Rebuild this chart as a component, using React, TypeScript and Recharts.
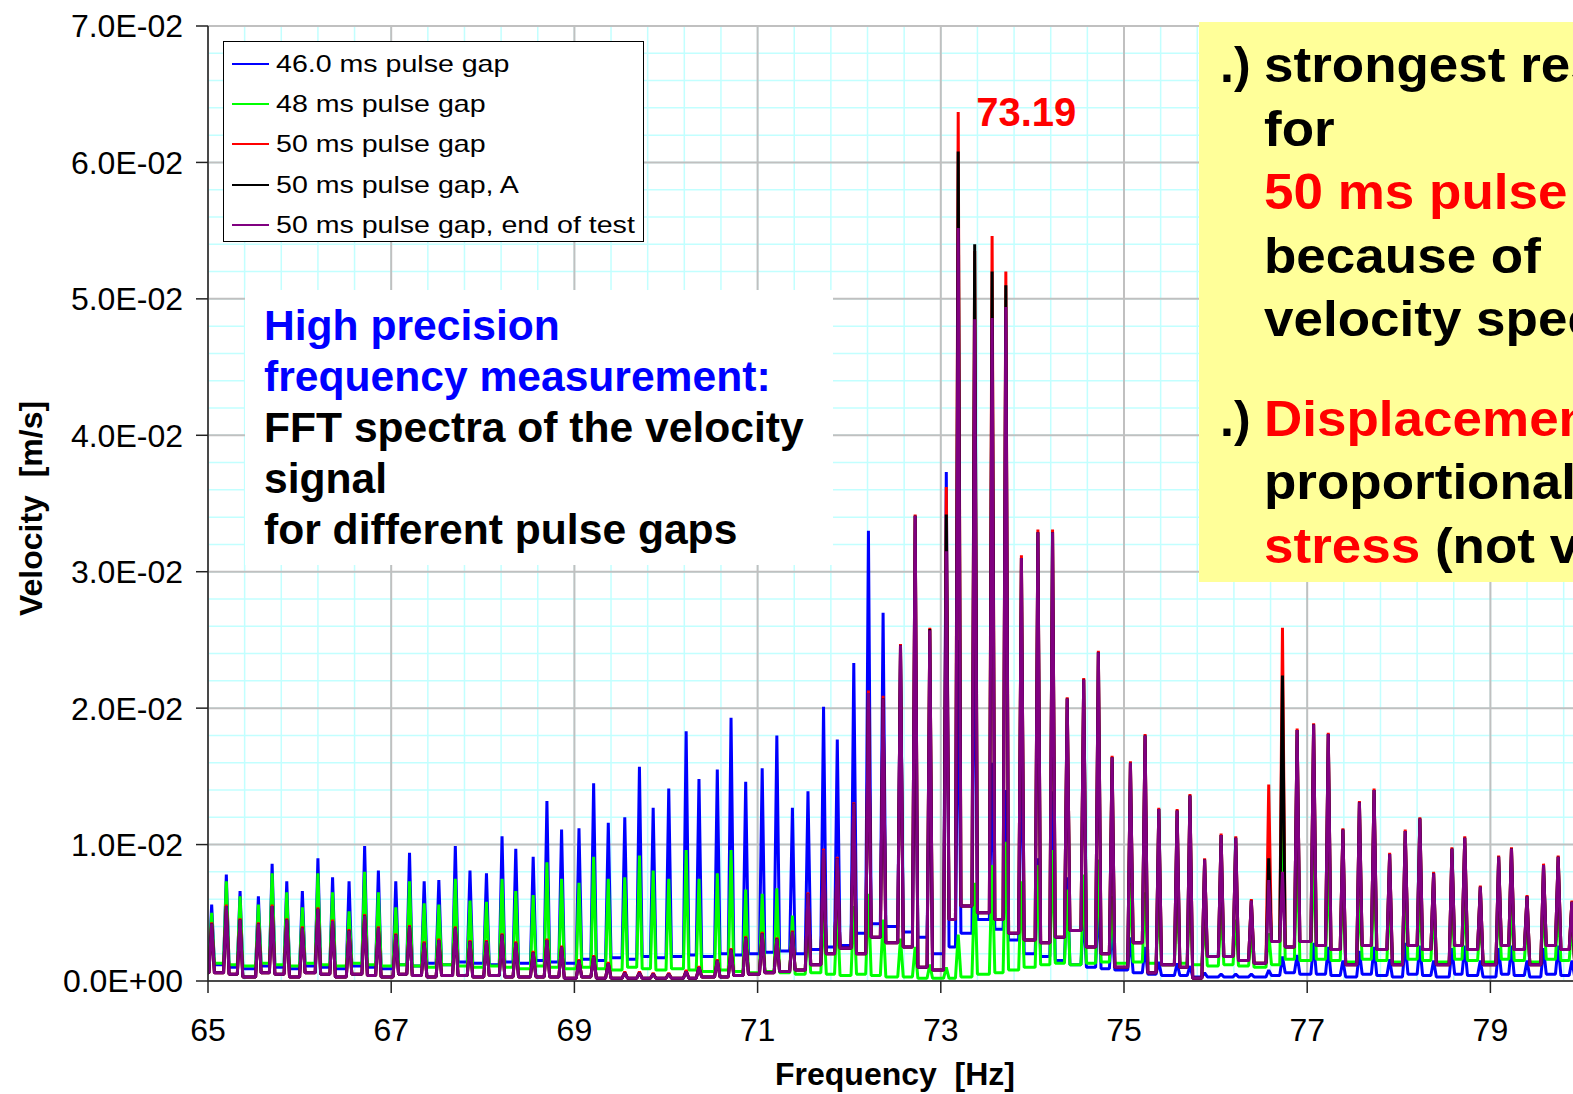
import React from 'react';
import { LineChart, Line, XAxis, YAxis, CartesianGrid, ReferenceDot } from 'recharts';

const FONT = '"Liberation Sans", Arial, Helvetica, sans-serif';

// Peak centre frequencies [Hz] of the FFT lines
const FREQ = [
  65.04, 65.2, 65.35, 65.55, 65.7, 65.86, 66.03, 66.2, 66.36, 66.54, 66.71, 66.86,
  67.05, 67.2, 67.36, 67.52, 67.7, 67.86, 68.04, 68.21, 68.36, 68.55, 68.7, 68.86,
  69.05, 69.21, 69.37, 69.55, 69.71, 69.86, 70.03, 70.22, 70.36, 70.56, 70.71, 70.87,
  71.05, 71.21, 71.38, 71.55, 71.72, 71.87,
  72.05, 72.21, 72.37, 72.56, 72.72, 72.88,
  73.06, 73.19, 73.37, 73.56, 73.71, 73.88,
  74.06, 74.22, 74.38, 74.56, 74.72, 74.87,
  75.07, 75.23, 75.38, 75.58, 75.72, 75.88,
  76.06, 76.22, 76.39, 76.58, 76.73, 76.89,
  77.07, 77.23, 77.39, 77.57, 77.73, 77.9,
  78.07, 78.23, 78.38, 78.58, 78.72, 78.89,
  79.09, 79.23, 79.4, 79.58, 79.74, 79.89,
];

// Values in 1e-3 m/s
const PEAK_46 = [
  5.6, 7.8, 6.6, 6.2, 8.6, 7.3, 6.6, 9.0, 7.6, 7.3, 9.9, 8.1,
  7.3, 9.4, 7.3, 7.4, 9.9, 8.1, 7.9, 10.6, 9.7, 9.1, 13.2, 11.1,
  11.2, 14.5, 11.6, 12.0, 15.7, 12.7, 14.1, 18.3, 14.8, 15.5, 19.3, 14.6,
  15.6, 18.0, 12.7, 13.9, 20.1, 17.7,
  23.3, 33.0, 27.0, 24.0, 22.0, 17.0,
  37.3, 25.0, 31.0, 16.0, 14.0, 19.5,
  9.0, 13.9, 7.6, 5.0, 6.0, 4.1,
  3.2, 2.5, 1.4, 1.3, 1.1, 0.6,
  0.5, 0.5, 0.5, 0.8, 1.8, 1.9,
  2.8, 2.5, 1.5, 2.2, 2.5, 1.6,
  2.8, 2.6, 1.5, 2.4, 2.6, 1.5,
  2.4, 2.6, 1.5, 2.4, 2.6, 1.5,
];
const VALLEY_46 = [
  1.2, 1.0, 0.9, 1.1, 1.0, 0.9, 1.1, 1.0, 0.9, 1.1, 1.0, 0.9,
  1.2, 1.1, 1.3, 1.2, 1.4, 1.3, 1.2, 1.4, 1.3, 1.5, 1.4, 1.3,
  1.6, 1.5, 1.7, 1.6, 1.8, 1.7, 1.8, 1.9, 1.8, 2.0, 1.9, 2.0,
  2.1, 2.2, 2.0, 2.3, 2.5, 2.6,
  3.5, 4.2, 4.0, 3.6, 3.2, 2.0,
  2.5, 3.5, 4.5, 3.8, 3.0, 2.0,
  1.8, 1.5, 1.2, 1.0, 0.9, 0.8,
  0.6, 0.5, 0.4, 0.4, 0.3, 0.3,
  0.3, 0.3, 0.3, 0.4, 0.6, 0.5,
  0.5, 0.4, 0.3, 0.5, 0.4, 0.3,
  0.5, 0.4, 0.3, 0.5, 0.4, 0.3,
  0.5, 0.4, 0.3, 0.5, 0.4, 0.3,
];

const PEAK_48 = [
  5.0, 7.3, 6.2, 5.6, 7.9, 6.5, 5.4, 7.9, 6.5, 5.1, 8.0, 6.5,
  5.4, 7.3, 5.7, 5.6, 7.5, 5.9, 5.8, 7.5, 6.6, 6.3, 8.7, 7.5,
  7.2, 9.1, 7.5, 7.6, 9.2, 8.1, 7.5, 9.6, 7.5, 7.9, 9.6, 6.7,
  6.4, 6.8, 4.8, 4.0, 5.0, 5.2,
  5.5, 6.4, 4.5, 3.1, 2.5, 1.2,
  1.0, 3.4, 7.2, 8.5, 10.2, 7.3,
  8.5, 9.6, 6.7, 7.8, 8.9, 6.2,
  7.2, 6.5, 5.7, 6.4, 6.4, 4.5,
  5.4, 4.5, 3.5, 3.5, 12.0, 9.4,
  9.8, 8.7, 7.2, 6.0, 7.9, 6.2,
  6.7, 6.2, 5.2, 5.9, 5.9, 4.5,
  5.5, 5.6, 4.3, 5.2, 5.4, 4.0,
];
const VALLEY_48 = [
  1.3, 1.2, 1.1, 1.3, 1.2, 1.1, 1.3, 1.2, 1.1, 1.3, 1.2, 1.1,
  1.2, 1.1, 1.0, 1.2, 1.1, 1.0, 1.1, 1.0, 0.9, 1.1, 1.0, 0.9,
  1.0, 0.9, 0.8, 1.0, 0.9, 0.8, 0.9, 0.8, 0.7, 0.8, 0.7, 0.6,
  0.7, 0.6, 0.5, 0.6, 0.5, 0.4,
  0.5, 0.4, 0.3, 0.3, 0.2, 0.2,
  0.2, 0.3, 0.5, 0.6, 0.8, 1.0,
  1.2, 1.3, 1.2, 1.3, 1.4, 1.3,
  1.4, 1.3, 1.2, 1.3, 1.2, 1.1,
  1.2, 1.1, 1.0, 1.2, 1.6, 1.5,
  1.6, 1.5, 1.4, 1.6, 1.5, 1.4,
  1.6, 1.5, 1.4, 1.6, 1.5, 1.4,
  1.6, 1.5, 1.4, 1.6, 1.5, 1.4,
];

const PEAK_50 = [
  4.3, 5.6, 4.6, 4.3, 5.6, 4.6, 4.0, 5.4, 4.5, 3.8, 4.9, 4.0,
  3.5, 4.1, 2.9, 3.1, 4.0, 3.0, 3.0, 3.5, 2.9, 2.2, 3.1, 2.6,
  1.6, 1.9, 1.4, 0.7, 0.7, 0.6, 0.6, 0.8, 1.1, 1.6, 2.4, 3.3,
  3.6, 3.2, 3.7, 6.5, 9.7, 9.1,
  13.1, 21.3, 20.9, 24.7, 34.2, 25.9,
  36.2, 63.7, 53.5, 54.6, 52.0, 31.2,
  33.1, 33.1, 20.8, 22.2, 24.2, 16.5,
  16.1, 18.1, 12.7, 12.6, 13.7, 9.0,
  10.8, 10.6, 6.0, 14.4, 25.9, 18.5,
  18.9, 18.2, 11.2, 13.2, 14.1, 9.4,
  11.1, 12.0, 8.0, 9.8, 10.6, 7.0,
  9.2, 9.8, 6.3, 8.6, 9.2, 5.9,
];
const PEAK_50A = [
  4.2, 5.5, 4.5, 4.2, 5.5, 4.5, 3.9, 5.3, 4.4, 3.7, 4.8, 3.9,
  3.4, 4.0, 2.8, 3.0, 3.9, 2.9, 2.9, 3.4, 2.8, 2.1, 3.0, 2.5,
  1.5, 1.8, 1.3, 0.6, 0.6, 0.5, 0.5, 0.7, 1.0, 1.5, 2.3, 3.2,
  3.5, 3.1, 3.6, 6.4, 9.6, 9.0,
  13.0, 21.1, 20.7, 24.6, 34.1, 25.8,
  34.2, 60.8, 54.0, 52.0, 51.0, 31.0,
  32.9, 32.9, 20.7, 22.1, 24.1, 16.4,
  16.0, 18.0, 12.6, 12.5, 13.6, 8.9,
  10.7, 10.5, 5.9, 9.0, 22.4, 18.4,
  18.8, 18.1, 11.1, 13.1, 14.0, 9.3,
  11.0, 11.9, 7.9, 9.7, 10.5, 6.9,
  9.1, 9.7, 6.2, 8.5, 9.1, 5.8,
];
const PEAK_50END = [
  4.2, 5.5, 4.5, 4.2, 5.5, 4.5, 3.9, 5.3, 4.4, 3.7, 4.8, 3.9,
  3.4, 4.0, 2.8, 3.0, 3.9, 2.9, 2.9, 3.4, 2.8, 2.1, 3.0, 2.5,
  1.5, 1.8, 1.3, 0.6, 0.6, 0.5, 0.5, 0.7, 1.0, 1.5, 2.3, 3.2,
  3.5, 3.1, 3.6, 6.4, 9.6, 9.0,
  13.0, 21.1, 20.7, 24.6, 34.1, 25.7,
  31.5, 55.2, 48.5, 48.6, 49.4, 31.0,
  32.9, 32.9, 20.7, 22.1, 24.1, 16.4,
  16.0, 18.0, 12.6, 12.5, 13.6, 8.9,
  10.7, 10.5, 5.9, 7.4, 8.0, 18.4,
  18.8, 18.1, 11.1, 13.1, 14.0, 9.3,
  11.0, 11.9, 7.9, 9.7, 10.5, 6.9,
  9.1, 9.7, 6.2, 8.5, 9.1, 5.8,
];
const VALLEY_50 = [
  0.6, 0.5, 0.3, 0.6, 0.5, 0.3, 0.6, 0.5, 0.3, 0.5, 0.4, 0.3,
  0.5, 0.4, 0.3, 0.4, 0.4, 0.3, 0.4, 0.3, 0.3, 0.3, 0.3, 0.2,
  0.3, 0.2, 0.2, 0.2, 0.2, 0.2, 0.2, 0.2, 0.3, 0.3, 0.4, 0.5,
  0.6, 0.7, 0.8, 1.2, 2.0, 2.4,
  2.0, 3.2, 2.8, 2.5, 1.0, 0.8,
  4.5, 5.5, 5.0, 4.5, 3.5, 3.0,
  2.8, 3.2, 3.7, 2.5, 2.0, 1.0,
  2.8, 0.6, 1.2, 1.0, 0.2, 1.8,
  1.8, 1.5, 1.3, 2.9, 2.5, 2.9,
  2.6, 2.3, 1.2, 2.6, 2.3, 1.2,
  2.6, 2.3, 1.2, 2.6, 2.3, 1.2,
  2.6, 2.3, 1.2, 2.6, 2.3, 1.2,
];

const SERIES_NAMES = [
  '46.0 ms pulse gap',
  '48 ms pulse gap',
  '50 ms pulse gap',
  '50 ms pulse gap, A',
  '50 ms pulse gap, end of test',
];
const SERIES_COLORS = ['#0000ff', '#00ff00', '#ff0000', '#000000', '#800080'];

const X_TICKS = [65, 67, 69, 71, 73, 75, 77, 79];
const Y_TICKS = [0, 0.01, 0.02, 0.03, 0.04, 0.05, 0.06, 0.07];
const X_DOMAIN = [65, 80];
const Y_DOMAIN = [0, 0.07];
const PEAK_LABEL = '73.19';
const PEAK_LABEL_INDEX = 49;

const FOOT = 0.03; // half width of a spike base (Hz)

function buildSeries(peaks: number[], valleys: number[]) {
  const pts: { f: number; v: number }[] = [{ f: X_DOMAIN[0], v: valleys[0] / 1000 }];
  FREQ.forEach((f, i) => {
    const left = i === 0 ? valleys[0] : valleys[i - 1];
    pts.push({ f: +(f - FOOT).toFixed(3), v: left / 1000 });
    pts.push({ f, v: peaks[i] / 1000 });
    pts.push({ f: +(f + FOOT).toFixed(3), v: valleys[i] / 1000 });
  });
  pts.push({ f: X_DOMAIN[1], v: valleys[valleys.length - 1] / 1000 });
  return pts;
}

const SERIES_DATA = [
  buildSeries(PEAK_46, VALLEY_46),
  buildSeries(PEAK_48, VALLEY_48),
  buildSeries(PEAK_50, VALLEY_50),
  buildSeries(PEAK_50A, VALLEY_50),
  buildSeries(PEAK_50END, VALLEY_50),
];

const MINOR_X: number[] = [];
for (let k = 1; k < 38; k++) MINOR_X.push(65 + 0.4 * k);
const MINOR_Y: number[] = [];
for (let k = 1; k < 35; k++) MINOR_Y.push(0.002 * k);

function toPx(scale: any, v: number): number | null {
  try {
    if (typeof scale === 'function') {
      const r = scale(v);
      if (Number.isFinite(r)) return r;
    }
    if (scale && typeof scale.map === 'function') {
      const r = scale.map(v);
      if (Number.isFinite(r)) return r;
    }
  } catch (e) {
    /* ignore */
  }
  return null;
}

const minorV = (props: any) => {
  const { xAxis, offset } = props;
  return MINOR_X.map((v) => {
    const p = toPx(xAxis && xAxis.scale, v);
    return p != null ? p : offset.left + ((v - X_DOMAIN[0]) / (X_DOMAIN[1] - X_DOMAIN[0])) * offset.width;
  });
};
const minorH = (props: any) => {
  const { yAxis, offset } = props;
  return MINOR_Y.map((v) => {
    const p = toPx(yAxis && yAxis.scale, v);
    return p != null ? p : offset.top + offset.height - ((v - Y_DOMAIN[0]) / (Y_DOMAIN[1] - Y_DOMAIN[0])) * offset.height;
  });
};

function fmtY(v: number) {
  if (v === 0) return '0.0E+00';
  const e = Math.floor(Math.log10(v) + 1e-9);
  const m = v / Math.pow(10, e);
  return m.toFixed(1) + 'E' + (e < 0 ? '-' : '+') + String(Math.abs(e)).padStart(2, '0');
}

const XTitle = (props: any) => {
  const vb = props.viewBox || { x: 208, y: 981, width: 1374, height: 70 };
  return (
    <text
      x={vb.x + vb.width / 2}
      y={vb.y + 93}
      textAnchor="middle"
      dominantBaseline="central"
      style={{ whiteSpace: 'pre', fontFamily: FONT, fontSize: 32, fontWeight: 'bold', fill: '#000' }}
    >
      {'Frequency  [Hz]'}
    </text>
  );
};

const YTitle = (props: any) => {
  const vb = props.viewBox || { x: 8, y: 26, width: 200, height: 955 };
  const cx = vb.x + 23;
  const cy = vb.y + vb.height / 2 + 5;
  return (
    <text
      x={cx}
      y={cy}
      transform={`rotate(-90, ${cx}, ${cy})`}
      textAnchor="middle"
      dominantBaseline="central"
      style={{ whiteSpace: 'pre', fontFamily: FONT, fontSize: 32, fontWeight: 'bold', fill: '#000' }}
    >
      {'Velocity  [m/s]'}
    </text>
  );
};

const LEGEND_ROW_TOPS = [2, 42, 82, 123, 163];

function LegendBox() {
  return (
    <div
      style={{
        position: 'absolute',
        left: 223,
        top: 41,
        width: 421,
        height: 201,
        boxSizing: 'border-box',
        border: '1.5px solid #000',
        background: '#fff',
      }}
    >
      {SERIES_NAMES.map((name, i) => (
        <div
          key={name}
          style={{
            position: 'absolute',
            left: 8,
            top: LEGEND_ROW_TOPS[i],
            height: 40,
            display: 'flex',
            alignItems: 'center',
            whiteSpace: 'nowrap',
          }}
        >
          <div style={{ width: 37, height: 2.5, background: SERIES_COLORS[i] }} />
          <span
            style={{
              marginLeft: 7,
              fontFamily: FONT,
              fontSize: 24,
              color: '#000',
              display: 'inline-block',
              transform: 'scaleX(1.19)',
              transformOrigin: 'left center',
            }}
          >
            {name}
          </span>
        </div>
      ))}
    </div>
  );
}

function InfoBox() {
  const line = (text: string, color: string) => (
    <div style={{ height: 51, lineHeight: '51px', color, whiteSpace: 'nowrap' }}>{text}</div>
  );
  return (
    <div
      style={{
        position: 'absolute',
        left: 245,
        top: 290,
        width: 588,
        height: 275,
        background: '#fff',
        boxSizing: 'border-box',
        paddingLeft: 19,
        paddingTop: 10,
        fontFamily: FONT,
        fontWeight: 'bold',
        fontSize: 42.6,
      }}
    >
      {line('High precision', '#0000ff')}
      {line('frequency measurement:', '#0000ff')}
      {line('FFT spectra of the velocity', '#000')}
      {line('signal', '#000')}
      {line('for different pulse gaps', '#000')}
    </div>
  );
}

function NoteBox() {
  const row = (content: React.ReactNode, bullet?: boolean, extraTop = 0) => (
    <div
      style={{
        position: 'relative',
        height: 63.5,
        lineHeight: '63.5px',
        whiteSpace: 'nowrap',
        marginTop: extraTop,
      }}
    >
      {bullet ? <span style={{ position: 'absolute', left: 21, top: 0 }}>.)</span> : null}
      <span
        style={{
          position: 'absolute',
          left: 65,
          top: 0,
          display: 'inline-block',
          transform: 'scaleX(1.06)',
          transformOrigin: 'left center',
        }}
      >
        {content}
      </span>
    </div>
  );
  const red = (t: string) => <span style={{ color: '#ff0000' }}>{t}</span>;
  return (
    <div
      style={{
        position: 'absolute',
        left: 1199,
        top: 22,
        width: 480,
        height: 560,
        background: '#ffff99',
        boxSizing: 'border-box',
        paddingTop: 12,
        fontFamily: FONT,
        fontWeight: 'bold',
        fontSize: 50,
        color: '#000',
      }}
    >
      {row('strongest response', true)}
      {row('for')}
      {row(red('50 ms pulse gap'))}
      {row('because of')}
      {row('velocity spectrum')}
      {row(red('Displacement'), true, 36)}
      {row('proportional to')}
      {row(
        <>
          {red('stress')} (not velocity)
        </>
      )}
    </div>
  );
}

export default function App() {
  return (
    <div
      style={{
        position: 'absolute',
        left: 0,
        top: 0,
        width: 1573,
        height: 1094,
        overflow: 'hidden',
        background: '#fff',
      }}
    >
      <LineChart width={1610} height={1094} margin={{ top: 26, right: 28, bottom: 43, left: 8 }}>
        <CartesianGrid
          stroke="#c2ffff"
          strokeWidth={1.5}
          verticalCoordinatesGenerator={minorV}
          horizontalCoordinatesGenerator={minorH}
        />
        <CartesianGrid stroke="#c0c0c0" strokeWidth={2} />
        <XAxis
          type="number"
          dataKey="f"
          domain={X_DOMAIN}
          ticks={X_TICKS}
          interval={0}
          allowDataOverflow
          height={70}
          tickSize={12}
          tickMargin={25}
          axisLine={{ stroke: '#222', strokeWidth: 1.5 }}
          tickLine={{ stroke: '#222', strokeWidth: 1.5 }}
          tick={{ fontSize: 32, fill: '#000', fontFamily: FONT }}
          label={XTitle}
        />
        <YAxis
          type="number"
          domain={Y_DOMAIN}
          ticks={Y_TICKS}
          interval={0}
          allowDataOverflow
          width={200}
          tickSize={12}
          tickMargin={13}
          tickFormatter={fmtY}
          axisLine={{ stroke: '#222', strokeWidth: 1.5 }}
          tickLine={{ stroke: '#222', strokeWidth: 1.5 }}
          tick={{ fontSize: 32, fill: '#000', fontFamily: FONT }}
          label={YTitle}
        />
        {SERIES_DATA.map((data, i) => (
          <Line
            key={SERIES_NAMES[i]}
            name={SERIES_NAMES[i]}
            data={data}
            dataKey="v"
            type="linear"
            stroke={SERIES_COLORS[i]}
            strokeWidth={3}
            strokeLinejoin="bevel"
            dot={false}
            activeDot={false}
            isAnimationActive={false}
          />
        ))}
        <ReferenceDot
          x={FREQ[PEAK_LABEL_INDEX]}
          y={PEAK_50[PEAK_LABEL_INDEX] / 1000}
          r={0}
          fill="none"
          stroke="none"
          label={{
            value: PEAK_LABEL,
            position: 'right',
            offset: 18,
            fill: '#ff0000',
            fontSize: 40,
            fontWeight: 'bold',
            fontFamily: FONT,
          }}
        />
      </LineChart>
      <LegendBox />
      <InfoBox />
      <NoteBox />
    </div>
  );
}
